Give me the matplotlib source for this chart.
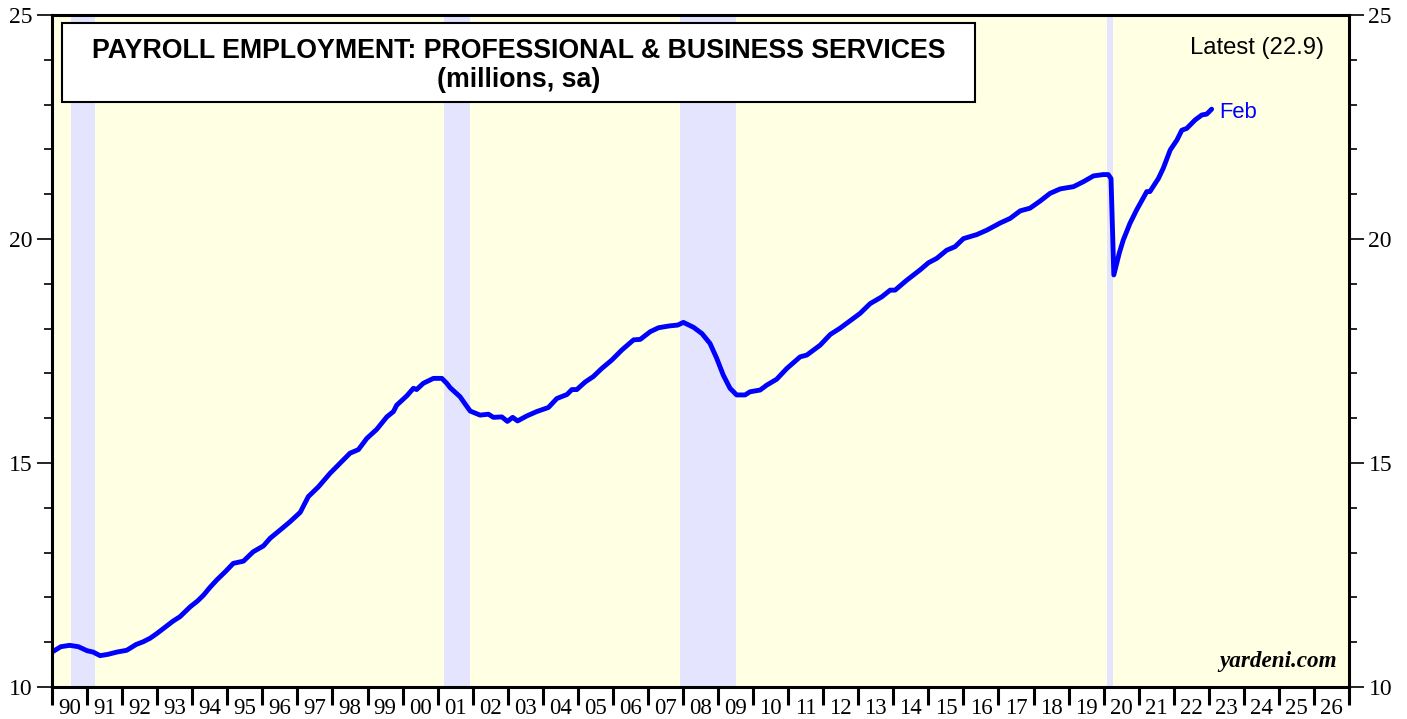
import matplotlib.pyplot as plt
from matplotlib.patches import Rectangle
from matplotlib.ticker import MultipleLocator

# payroll employment, professional & business services (millions, sa)
dates = [1990.00, 1990.25, 1990.50, 1990.75, 1991.00, 1991.17, 1991.37, 1991.60, 1991.85,
         1992.13, 1992.40, 1992.60, 1992.80, 1993.00, 1993.20, 1993.45, 1993.65, 1993.94,
         1994.15, 1994.32, 1994.50, 1994.70, 1994.95, 1995.17, 1995.46, 1995.74, 1996.03,
         1996.22, 1996.50, 1996.79, 1997.08, 1997.31, 1997.60, 1997.93, 1998.22, 1998.50,
         1998.74, 1998.98, 1999.26, 1999.55, 1999.74, 1999.83, 2000.12, 2000.31, 2000.40,
         2000.59, 2000.88, 2001.12, 2001.26, 2001.36, 2001.64, 2001.80, 2001.93, 2002.21,
         2002.45, 2002.59, 2002.83, 2002.99, 2003.14, 2003.28, 2003.54, 2003.83, 2004.16,
         2004.40, 2004.69, 2004.83, 2004.97, 2005.21, 2005.44, 2005.68, 2005.97, 2006.25,
         2006.59, 2006.78, 2007.06, 2007.30, 2007.60, 2007.85, 2008.01, 2008.30, 2008.54,
         2008.77, 2008.96, 2009.15, 2009.34, 2009.53, 2009.77, 2009.91, 2010.20, 2010.39,
         2010.67, 2010.96, 2011.34, 2011.53, 2011.91, 2012.20, 2012.48, 2012.67, 2013.05,
         2013.34, 2013.67, 2013.91, 2014.05, 2014.38, 2014.76, 2015.00, 2015.24, 2015.52,
         2015.76, 2016.00, 2016.38, 2016.67, 2017.05, 2017.33, 2017.62, 2017.90, 2018.19,
         2018.47, 2018.76, 2019.14, 2019.42, 2019.71, 2019.99, 2020.13, 2020.21, 2020.29,
         2020.37, 2020.45, 2020.56, 2020.75, 2020.94, 2021.23, 2021.32, 2021.56, 2021.70,
         2021.90, 2022.09, 2022.23, 2022.37, 2022.61, 2022.80, 2022.94, 2023.08]
values = [10.78, 10.90, 10.93, 10.90, 10.81, 10.78, 10.70, 10.73, 10.78,
          10.82, 10.95, 11.01, 11.09, 11.20, 11.32, 11.47, 11.57, 11.79,
          11.92, 12.05, 12.22, 12.39, 12.58, 12.76, 12.81, 13.02, 13.15,
          13.32, 13.50, 13.69, 13.90, 14.25, 14.47, 14.77, 15.00, 15.22,
          15.30, 15.55, 15.75, 16.03, 16.15, 16.29, 16.50, 16.67, 16.64,
          16.78, 16.89, 16.89, 16.78, 16.68, 16.48, 16.30, 16.16, 16.07,
          16.09, 16.02, 16.03, 15.93, 16.02, 15.94, 16.05, 16.15, 16.24,
          16.44, 16.53, 16.64, 16.64, 16.81, 16.93, 17.11, 17.30, 17.52,
          17.75, 17.76, 17.93, 18.02, 18.06, 18.08, 18.14, 18.03, 17.89,
          17.67, 17.34, 16.96, 16.67, 16.52, 16.52, 16.59, 16.63, 16.74,
          16.87, 17.11, 17.37, 17.41, 17.63, 17.87, 18.01, 18.12, 18.34,
          18.56, 18.71, 18.86, 18.86, 19.08, 19.31, 19.47, 19.57, 19.75,
          19.83, 20.01, 20.10, 20.20, 20.36, 20.46, 20.63, 20.69, 20.85,
          21.02, 21.12, 21.17, 21.28, 21.41, 21.44, 21.44, 21.35, 19.20,
          19.45, 19.70, 19.98, 20.35, 20.65, 21.06, 21.06, 21.35, 21.58,
          21.99, 22.21, 22.43, 22.47, 22.66, 22.77, 22.79, 22.90]

recessions = [(1990.55, 1991.22), (2001.17, 2001.92), (2007.92, 2009.50), (2020.10, 2020.28)]
year_labels = ['%02d' % (y % 100) for y in range(1990, 2027)]

fig = plt.figure(figsize=(14.07, 7.19), dpi=100)
ax = fig.add_axes([0.037, 0.0445, 0.9218, 0.9345])
ax.set_facecolor('#FFFFE3')

for start, end in recessions:
    ax.axvspan(start, end, color='#E4E4FF', lw=0, zorder=1)

ax.plot(dates, values, color='#0000FF', lw=3.5, zorder=3, solid_capstyle='round',
        solid_joinstyle='round')

ax.set_xlim(1990, 2027)
ax.set_ylim(10, 25)

for s in ax.spines.values():
    s.set_linewidth(2.2)
    s.set_zorder(5)

# y axis on both sides
ax.yaxis.set_major_locator(MultipleLocator(5))
ax.yaxis.set_minor_locator(MultipleLocator(1))
ax.tick_params(axis='y', which='major', direction='out', length=11, width=1.2,
               left=True, right=True, labelleft=True, labelright=True, pad=3)
ax.tick_params(axis='y', which='minor', direction='out', length=6, width=1.2,
               left=True, right=True)
for lab in ax.get_yticklabels():
    lab.set_family('Liberation Serif')
    lab.set_fontsize(17)

# x axis: year ticks, labels centred between
ax.set_xticks(range(1990, 2028))
ax.set_xticklabels([])
ax.set_xticks([y + 0.5 for y in range(1990, 2027)], minor=True)
ax.set_xticklabels(year_labels, minor=True, family='Liberation Serif', fontsize=16.5)
ax.tick_params(axis='x', which='major', direction='out', length=13, width=2.2)
ax.tick_params(axis='x', which='minor', length=0, pad=8)

# title box
ax.add_patch(Rectangle((0.0077, 0.871), 0.704, 0.117, transform=ax.transAxes,
                       facecolor='white', edgecolor='black', lw=1.5, zorder=6))
ax.text(0.3597, 0.946, 'PAYROLL EMPLOYMENT: PROFESSIONAL & BUSINESS SERVICES',
        transform=ax.transAxes, ha='center', va='center', fontsize=19.3,
        fontweight='bold', family='Liberation Sans', zorder=7)
ax.text(0.3597, 0.903, '(millions, sa)', transform=ax.transAxes, ha='center',
        va='center', fontsize=19.3, fontweight='bold', family='Liberation Sans', zorder=7)

ax.text(0.981, 0.951, 'Latest (22.9)', transform=ax.transAxes, ha='right', va='center',
        fontsize=17.2, family='Liberation Sans', zorder=7)
ax.text(dates[-1] + 0.22, values[-1] - 0.07, 'Feb', color='#0000FF', ha='left', va='center',
        fontsize=15.8, family='Liberation Sans', zorder=7)
ax.text(0.991, 0.022, 'yardeni.com', transform=ax.transAxes, ha='right', va='bottom',
        fontsize=16.7, fontweight='bold', fontstyle='italic', family='Liberation Serif', zorder=7)

fig.savefig('out.png', dpi=100)
